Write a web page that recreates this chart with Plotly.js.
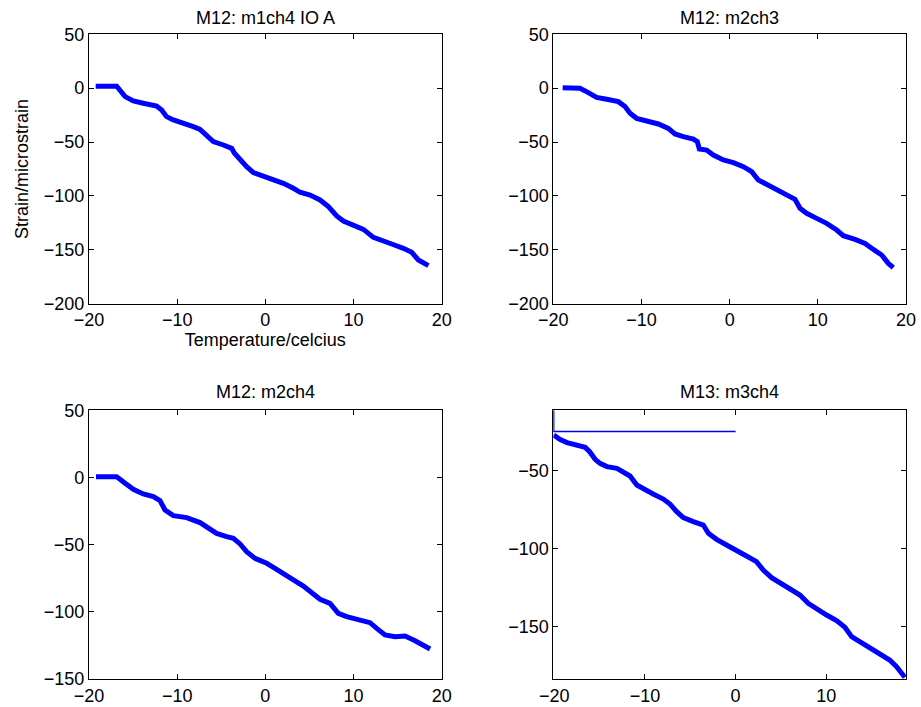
<!DOCTYPE html>
<html>
<head>
<meta charset="utf-8">
<script src="https://cdn.plot.ly/plotly-3.0.1.min.js"></script>
<style>html,body{margin:0;padding:0;background:#fff;}#chart{width:921px;height:707px;}</style>
</head>
<body>
<div id="chart"></div>
<script>
// Panel titles
const panelTitles = ["M12: m1ch4 IO A", "M12: m2ch3", "M12: m2ch4", "M13: m3ch4"];
const xAxisLabel = "Temperature/celcius";
const yAxisLabel = "Strain/microstrain";

// M12: m1ch4 IO A
const t1 = [-19.24,-16.86,-15.9,-14.97,-13.84,-12.33,-11.76,-11.2,-10.43,-9.3,-8.17,-7.41,-6.65,-5.9,-4.76,-3.82,-3.5,-2.87,-2.12,-1.36,-0.23,0.91,2.04,3.18,3.93,5.07,6.2,7.15,8.09,8.85,9.98,11.12,12.25,13.38,14.33,15.65,16.6,17.35,18.49];
const s1 = [1.8,1.8,-7.8,-11.9,-14,-16.5,-20.2,-26.4,-29.5,-32,-35.7,-38.2,-43.4,-49.6,-52.7,-55.8,-60.4,-66.6,-72.8,-78.4,-81.5,-85.2,-88.3,-92.9,-96.6,-99.1,-103.7,-109.9,-118.6,-123.2,-126.9,-131,-138.4,-142.4,-144.6,-148.6,-152.3,-159.4,-164.7];

// M12: m2ch3
const t2 = [-18.94,-16.98,-16.03,-15.09,-13.95,-12.63,-11.87,-11.3,-10.55,-9.41,-8.09,-6.96,-6.2,-5.26,-4.12,-3.67,-3.44,-2.61,-1.85,-0.72,0.42,1.55,2.5,3.25,4.2,5.33,6.47,7.41,7.98,8.73,9.87,11,12.14,12.89,14.22,15.35,16.3,17.24,18.0,18.56];
const s2 = [0.5,0,-4.1,-8.5,-10.3,-12.5,-17.1,-23.3,-28,-30.1,-33.2,-37.3,-42.5,-45,-47.2,-49.6,-56.4,-57.4,-62,-66.6,-69.1,-72.8,-77.5,-85.2,-89.2,-93.9,-99.1,-103.2,-111.5,-116.1,-120.8,-125.4,-131.6,-136.9,-140.3,-144,-149.6,-154.8,-162.6,-166.6];

// M12: m2ch4
const t3 = [-19.2,-16.86,-15.9,-14.97,-13.84,-12.7,-11.95,-11.38,-10.43,-8.92,-7.41,-6.46,-5.52,-4.39,-3.63,-2.87,-2.12,-1.17,0.15,1.1,2.04,3.18,4.31,5.44,6.2,7.33,8.28,9.22,10.36,11.87,12.63,13.57,14.71,15.84,16.98,17.92,18.68];
const s3 = [0.6,0.6,-4.3,-8.8,-12.3,-14.3,-17.2,-24.2,-28.4,-29.9,-33.6,-37.8,-41.6,-44,-45.3,-49.5,-55.2,-60.2,-63.9,-67.6,-71.8,-76.3,-80.8,-86.2,-90.7,-93.7,-101.1,-103.6,-105.6,-108.1,-112.3,-117.2,-118.5,-118,-121.5,-124.7,-127.7];

// M13: m3ch4
const t4 = [-20.07,-19.4,-18.6,-17.5,-16.6,-16.1,-15.5,-14.96,-14.2,-13.1,-12.4,-11.65,-10.9,-10,-9.1,-7.98,-7.24,-6.5,-5.77,-4.67,-3.57,-3.0,-2.1,-1.0,0.1,1.2,2.3,3.05,3.97,5.07,6.18,7.1,8.01,9.12,10.04,11.14,12.06,12.8,13.7,14.8,15.9,17.0,17.76,18.68];
const s4 = [-26.9,-29.7,-31.8,-33.3,-34.8,-37.6,-42.5,-45.1,-47.2,-48.3,-50.4,-53.2,-59,-62.2,-64.8,-68,-71.2,-76.1,-80,-82.5,-84.7,-90,-93.9,-97.5,-101.4,-104.6,-108.2,-113.6,-118.5,-122.2,-125.8,-129.7,-135,-139.3,-142.5,-146.1,-150.4,-156.4,-159.6,-162.8,-167.1,-171.4,-175.7,-182.5];
// M13 stray segment
const t4b = [0, -20.07, -20.07];
const s4b = [-24.7, -24.7, -11];

const blue = '#0000ff';
const font = {family: 'Liberation Sans, Arial, Helvetica, sans-serif', size: 18, color: '#000'};

function tr(x, y, xa, ya, w) {
  return {x: x, y: y, xaxis: xa, yaxis: ya, type: 'scatter', mode: 'lines',
          line: {color: blue, width: w}, hoverinfo: 'skip', showlegend: false};
}

const data = [
  tr(t1, s1, 'x', 'y', 5),
  tr(t2, s2, 'x2', 'y2', 5),
  tr(t3, s3, 'x3', 'y3', 5),
  tr(t4, s4, 'x4', 'y4', 5),
  tr(t4b, s4b, 'x4', 'y4', 1.5)
];

function ax(domain, range, dtick, anchor, extra) {
  return Object.assign({
    domain: domain, range: range, dtick: dtick, tick0: 0, anchor: anchor,
    showgrid: false, zeroline: false, showline: true, linecolor: '#000', linewidth: 1,
    mirror: 'ticks', ticks: 'inside', ticklen: 5, tickcolor: '#000', tickwidth: 1,
    tickfont: font, fixedrange: true
  }, extra || {});
}

const xL = [0.0966, 0.4796], xR = [0.6008, 0.9837];
const yT = [0.5704, 0.9515], yB = [0.0396, 0.4197];

const layout = {
  width: 921, height: 707,
  margin: {l: 0, r: 0, t: 0, b: 0},
  paper_bgcolor: '#fff', plot_bgcolor: '#fff',
  font: font,
  showlegend: false,
  xaxis: ax(xL, [-20, 20], 10, 'y', {title: {text: xAxisLabel, font: font, standoff: 4}}),
  yaxis: ax(yT, [-200, 50], 50, 'x', {title: {text: yAxisLabel, font: font, standoff: 10}}),
  xaxis2: ax(xR, [-20, 20], 10, 'y2'),
  yaxis2: ax(yT, [-200, 50], 50, 'x2'),
  xaxis3: ax(xL, [-20, 20], 10, 'y3'),
  yaxis3: ax(yB, [-150, 50], 50, 'x3'),
  xaxis4: ax(xR, [-20.11, 18.8], 10, 'y4'),
  yaxis4: ax(yB, [-183.6, -11], 50, 'x4'),
  annotations: [
    {text: panelTitles[0], x: (xL[0]+xL[1])/2, y: 1 - 17.7/707},
    {text: panelTitles[1], x: (xR[0]+xR[1])/2, y: 1 - 17.7/707},
    {text: panelTitles[2], x: (xL[0]+xL[1])/2, y: 1 - 392.3/707},
    {text: panelTitles[3], x: (xR[0]+xR[1])/2, y: 1 - 392.3/707}
  ].map(a => Object.assign(a, {xref: 'paper', yref: 'paper', xanchor: 'center', yanchor: 'middle', showarrow: false, font: font}))
};

Plotly.newPlot('chart', data, layout, {displayModeBar: false, staticPlot: true});
</script>
</body>
</html>
